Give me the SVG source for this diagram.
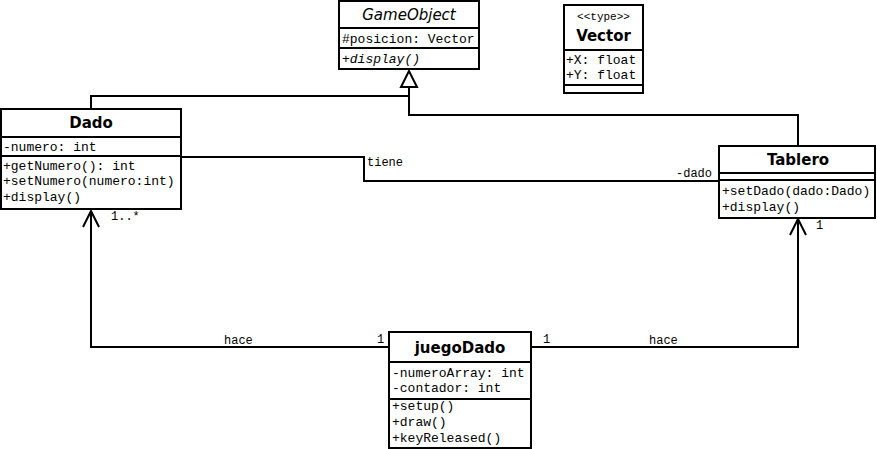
<svg xmlns="http://www.w3.org/2000/svg" width="877" height="449" viewBox="0 0 877 449">
  <style>
    .box { fill: #ffffff; stroke: #000000; stroke-width: 2; }
    .sep { stroke: #000000; stroke-width: 2; }
    .title { font-family: "DejaVu Sans", "Liberation Sans", sans-serif; font-weight: bold; font-size: 15px; text-anchor: middle; fill: #000; }
    .ital { font-family: "DejaVu Sans", "Liberation Sans", sans-serif; font-style: italic; font-size: 15px; text-anchor: middle; fill: #000; }
    .mono { font-family: "Liberation Mono", "Courier New", monospace; font-size: 13px; fill: #000; }
    .monoi { font-family: "Liberation Mono", "Courier New", monospace; font-size: 13px; font-style: italic; fill: #000; }
    .stereo { font-family: "Liberation Mono", "Courier New", monospace; font-size: 11px; text-anchor: middle; fill: #000; }
    .lbl { font-family: "Liberation Mono", "Courier New", monospace; font-size: 12px; fill: #000; }
    .wire { fill: none; stroke: #000000; stroke-width: 2; }
  </style>

  <!-- connectors -->
  <g id="connectors">
    <!-- generalization: Dado and Tablero extend GameObject -->
    <polyline class="wire" points="91,109 91,96 409,96"/>
    <polyline class="wire" points="409,87 409,115 798,115 798,146"/>
    <polygon points="409,71 401,87 417,87" fill="#ffffff" stroke="#000000" stroke-width="2"/>

    <!-- association Dado - Tablero -->
    <polyline class="wire" points="181,157 364,157 364,181 719,181"/>
    <text class="lbl" x="367" y="166">tiene</text>
    <text class="lbl" x="676" y="177">-dado</text>

    <!-- juegoDado -> Dado -->
    <polyline class="wire" points="389,347 91,347 91,211"/>
    <polyline class="wire" points="83,227 91,211 99,227"/>
    <text class="lbl" x="111" y="220">1..*</text>
    <text class="lbl" x="224" y="344">hace</text>
    <text class="lbl" x="377" y="343">1</text>

    <!-- juegoDado -> Tablero -->
    <polyline class="wire" points="531,347 798,347 798,219"/>
    <polyline class="wire" points="790,235 798,219 806,235"/>
    <text class="lbl" x="543" y="343">1</text>
    <text class="lbl" x="649" y="344">hace</text>
    <text class="lbl" x="816" y="229">1</text>
  </g>

  <!-- GameObject (abstract) -->
  <g id="GameObject">
    <rect class="box" x="339" y="1" width="140" height="68"/>
    <line class="sep" x1="339" y1="28" x2="479" y2="28"/>
    <line class="sep" x1="339" y1="48" x2="479" y2="48"/>
    <text class="ital" x="409" y="20">GameObject</text>
    <text class="mono" x="342" y="43">#posicion: Vector</text>
    <text class="monoi" x="342" y="63">+display()</text>
  </g>

  <!-- Vector -->
  <g id="Vector">
    <rect class="box" x="564" y="5" width="79" height="88"/>
    <line class="sep" x1="564" y1="50" x2="643" y2="50"/>
    <line class="sep" x1="564" y1="85" x2="643" y2="85"/>
    <text class="stereo" x="603.5" y="20">&lt;&lt;type&gt;&gt;</text>
    <text class="title" x="603.5" y="41">Vector</text>
    <text class="mono" x="566" y="64">+X: float</text>
    <text class="mono" x="566" y="79">+Y: float</text>
  </g>

  <!-- Dado -->
  <g id="Dado">
    <rect class="box" x="1" y="109" width="180" height="100"/>
    <line class="sep" x1="1" y1="137" x2="181" y2="137"/>
    <line class="sep" x1="1" y1="156" x2="181" y2="156"/>
    <text class="title" x="91" y="128">Dado</text>
    <text class="mono" x="3" y="151">-numero: int</text>
    <text class="mono" x="3" y="170">+getNumero(): int</text>
    <text class="mono" x="3" y="185">+setNumero(numero:int)</text>
    <text class="mono" x="3" y="201">+display()</text>
  </g>

  <!-- Tablero -->
  <g id="Tablero">
    <rect class="box" x="719" y="146" width="156" height="72"/>
    <line class="sep" x1="719" y1="173" x2="875" y2="173"/>
    <line class="sep" x1="719" y1="180" x2="875" y2="180"/>
    <text class="title" x="798" y="165">Tablero</text>
    <text class="mono" x="722" y="195">+setDado(dado:Dado)</text>
    <text class="mono" x="722" y="211">+display()</text>
  </g>

  <!-- juegoDado -->
  <g id="juegoDado">
    <rect class="box" x="389" y="332" width="142" height="116"/>
    <line class="sep" x1="389" y1="362" x2="531" y2="362"/>
    <line class="sep" x1="389" y1="399" x2="531" y2="399"/>
    <text class="title" x="460" y="353">juegoDado</text>
    <text class="mono" x="392" y="377">-numeroArray: int</text>
    <text class="mono" x="392" y="392">-contador: int</text>
    <text class="mono" x="392" y="410">+setup()</text>
    <text class="mono" x="392" y="426">+draw()</text>
    <text class="mono" x="392" y="442">+keyReleased()</text>
  </g>
</svg>
